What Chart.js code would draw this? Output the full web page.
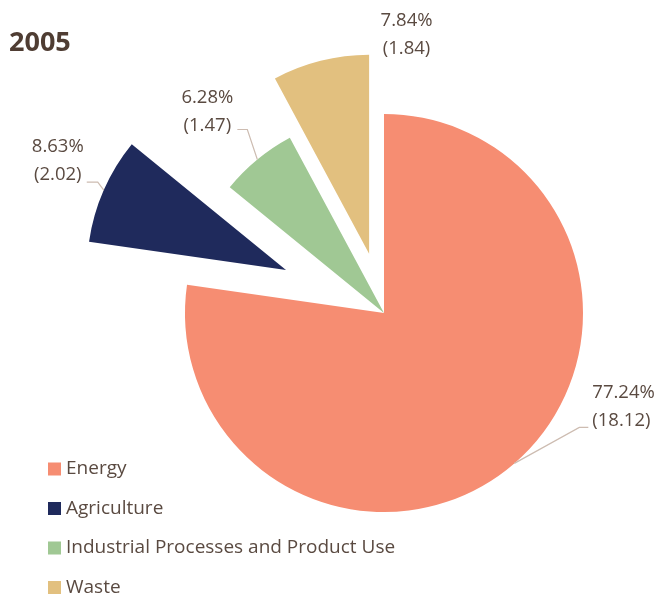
<!DOCTYPE html>
<html>
<head>
<meta charset="utf-8">
<script src="https://cdn.jsdelivr.net/npm/chart.js@4/dist/chart.umd.min.js"></script>
<style>
  html, body { margin: 0; padding: 0; background: #fff; }
  #wrap { width: 658px; height: 601px; position: relative; }
</style>
</head>
<body>
<div id="wrap"><canvas id="emissionsPie"></canvas></div>
<script>
const year = "2005";
const sectors = ["Energy", "Agriculture", "Industrial Processes and Product Use", "Waste"];
const emissions = [18.12, 2.02, 1.47, 1.84];
const shares = [77.24, 8.63, 6.28, 7.84];

const sectorColors = ["#f68d72", "#1f2a5c", "#a0c894", "#e2c07f"];
const textColor = "#5a4a41";
const leaderColor = "#cdbcb1";
const font = "'Open Sans', 'Noto Sans', sans-serif";

// how far each slice is pulled out from the centre
const explode = [0, 107, 0, 61];

// label placement, relative to the point where the slice bisector meets the rim
const labelLayout = [
    { leader: [[65, -36], [74, -36]], dx: 78, dy: -71, align: "left" },
    { leader: [[-6, -8], [-17, -8]], dx: -46, dy: -43, align: "center" },
    { leader: [[-10, -30], [-20, -30]], dx: -50, dy: -62, align: "center" },
    { leader: [], dx: 86, dy: -40, align: "center" }
];

const explodePlugin = {
    id: "explodeSlices",
    afterDatasetsUpdate(chart) {
        const arcs = chart.getDatasetMeta(0).data;
        arcs.forEach(function (arc, i) {
            const mid = (arc.startAngle + arc.endAngle) / 2;
            arc.x += Math.cos(mid) * explode[i];
            arc.y += Math.sin(mid) * explode[i];
        });
    }
};

const decorPlugin = {
    id: "decor",
    afterDraw(chart) {
        const ctx = chart.ctx;
        const arcs = chart.getDatasetMeta(0).data;
        ctx.save();

        // title
        ctx.fillStyle = "#4f3d33";
        ctx.font = "bold 27px " + font;
        ctx.textAlign = "left";
        ctx.textBaseline = "alphabetic";
        ctx.fillText(year, 9, 51);

        // value labels with leader lines
        ctx.font = "18.5px " + font;
        ctx.textBaseline = "middle";
        arcs.forEach(function (arc, i) {
            const mid = (arc.startAngle + arc.endAngle) / 2;
            const ex = arc.x + Math.cos(mid) * arc.outerRadius;
            const ey = arc.y + Math.sin(mid) * arc.outerRadius;
            const lay = labelLayout[i];
            if (lay.leader.length) {
                ctx.strokeStyle = leaderColor;
                ctx.lineWidth = 1.2;
                ctx.beginPath();
                ctx.moveTo(ex, ey);
                lay.leader.forEach(function (p) { ctx.lineTo(ex + p[0], ey + p[1]); });
                ctx.stroke();
            }
            ctx.fillStyle = textColor;
            ctx.textAlign = lay.align;
            ctx.fillText(shares[i].toFixed(2) + "%", ex + lay.dx, ey + lay.dy);
            ctx.fillText("(" + emissions[i].toFixed(2) + ")", ex + lay.dx, ey + lay.dy + 28);
        });

        // legend
        ctx.font = "19px " + font;
        ctx.textAlign = "left";
        sectors.forEach(function (name, i) {
            const y = 469 + i * 39.5;
            ctx.fillStyle = sectorColors[i];
            ctx.fillRect(48, y - 6.5, 13, 13);
            ctx.fillStyle = textColor;
            ctx.fillText(name, 66, y);
        });
        ctx.restore();
    }
};

new Chart(document.getElementById("emissionsPie"), {
    type: "pie",
    data: {
        labels: sectors,
        datasets: [{
            data: emissions,
            backgroundColor: sectorColors,
            borderWidth: 0
        }]
    },
    options: {
        responsive: true,
        maintainAspectRatio: false,
        animation: false,
        radius: 199,
        layout: { padding: { left: 110, top: 25, right: 0, bottom: 0 } },
        plugins: {
            legend: { display: false },
            tooltip: { enabled: false },
            title: { display: false }
        },
        events: []
    },
    plugins: [explodePlugin, decorPlugin]
});
</script>
</body>
</html>
